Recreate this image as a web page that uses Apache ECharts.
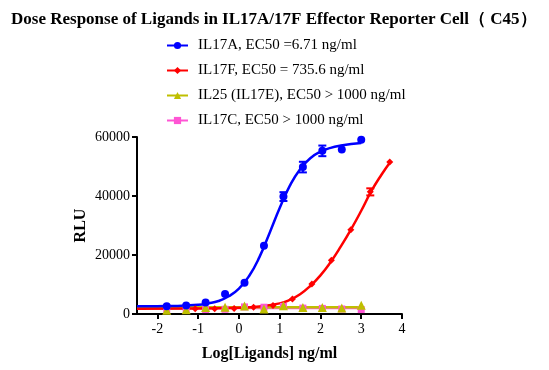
<!DOCTYPE html>
<html><head><meta charset="utf-8">
<script src="https://cdn.jsdelivr.net/npm/echarts@6/dist/echarts.min.js"></script>
<style>html,body{margin:0;padding:0;background:#fff}#c{width:549px;height:370px}</style>
</head><body><div id="c"></div>
<script>
// Names
const names = ['IL17A, EC50 =6.71 ng/ml','IL17F, EC50 = 735.6 ng/ml','IL25 (IL17E), EC50 > 1000 ng/ml','IL17C, EC50 > 1000 ng/ml'];
// Data points (log10 concentration, RLU, error)
const xA = [-1.771,-1.294,-0.817,-0.340,0.137,0.614,1.092,1.569,2.046,2.523,3.000];
const yA = [2600,2900,3900,6800,10600,23100,39800,49800,55300,55800,59100];
const eA = [0,0,0,0,0,0,1500,1800,1800,0,0];
const xF = [-1.073,-0.595,-0.118,0.359,0.836,1.313,1.790,2.268,2.745,3.222,3.699];
const yF = [1800,1800,1900,2300,2900,5100,10200,18200,28600,41400,51500];
const eF = [0,0,0,0,0,0,0,0,0,1200,0];
const xE = [-1.771,-1.294,-0.817,-0.340,0.137,0.614,1.092,1.569,2.046,2.523,3.000];
const yE = [1300,1400,2200,2300,2700,1700,2800,2200,2200,2000,3000];
const xC = [-1.771,-1.294,-0.817,-0.340,0.137,0.614,1.092,1.569,2.046,2.523,3.000];
const yC = [1600,1700,1500,1600,2400,2300,2600,2000,1900,1700,1500];
// Fitted curves
const cxA = [-2.5,-2,-1.5,-1,-0.75,-0.5,-0.25,0,0.25,0.5,0.75,1,1.25,1.5,1.75,2,2.25,2.5,2.75,3];
const cyA = [2600,2650,2750,3100,3600,4400,6000,8600,12900,19200,27400,35900,43500,49100,52800,55000,56300,57100,57600,58000];
const cxF = [-2.5,-1,0,0.5,1,1.25,1.5,1.75,2,2.25,2.5,2.75,3,3.25,3.5,3.7];
const cyF = [1800,1850,2100,2550,3600,4800,6700,9500,13100,17600,22900,28700,35000,41700,47300,51300];
const cxE = [-2.5,3];
const cyE = [2250,2250];
const cxC = [-2.5,3];
const cyC = [2000,2000];
// Axis ticks
const xTicks = [-2,-1,0,1,2,3,4];

const colors = ['#0000ff','#ff0000','#bfbf00','#ff55d4'];
const FONT = 'Liberation Serif';
const zip = (a,b)=>a.map((v,i)=>[v,b[i]]);
const errData = (xs,ys,es)=>xs.map((v,i)=>[v,ys[i],es[i]]).filter(d=>d[2]>0);

function errBar(color){
  return function(params, api){
    const x = api.value(0), y = api.value(1), e = api.value(2);
    const top = api.coord([x,y+e]), bot = api.coord([x,y-e]);
    const w = 4;
    const st = {stroke:color,lineWidth:2};
    return {type:'group',children:[
      {type:'line',shape:{x1:top[0],y1:top[1],x2:bot[0],y2:bot[1]},style:st},
      {type:'line',shape:{x1:top[0]-w,y1:top[1],x2:top[0]+w,y2:top[1]},style:st},
      {type:'line',shape:{x1:bot[0]-w,y1:bot[1],x2:bot[0]+w,y2:bot[1]},style:st}
    ]};
  };
}

const chart = echarts.init(document.getElementById('c'),null,{renderer:'canvas'});
const symbols = ['circle','diamond','triangle','rect'];
const sizes = [8,7,9,7];
const curves = [[cxA,cyA],[cxF,cyF],[cxE,cyE],[cxC,cyC]];
const pts = [[xA,yA],[xF,yF],[xE,yE],[xC,yC]];
const order = [3,2,1,0];
const series = [];
order.forEach((k,j)=>{
  series.push({name:names[k],type:'line',data:zip(curves[k][0],curves[k][1]),showSymbol:false,symbol:symbols[k],
    smooth:true,lineStyle:{color:colors[k],width:2.5},itemStyle:{color:colors[k]},z:2+j,silent:true});
});
order.forEach((k,j)=>{
  series.push({name:names[k],type:'scatter',data:zip(pts[k][0],pts[k][1]),symbol:symbols[k],symbolSize:sizes[k],
    itemStyle:{color:colors[k],opacity:1},z:10+j});
});
series.push({type:'custom',renderItem:errBar(colors[1]),data:errData(xF,yF,eF),z:20});
series.push({type:'custom',renderItem:errBar(colors[0]),data:errData(xA,yA,eA),z:21});

chart.setOption({
  animation:false,
  title:{text:'Dose Response of Ligands in IL17A/17F Effector Reporter Cell（ C45）',left:6,top:6,
    textStyle:{fontFamily:FONT,fontWeight:'bold',fontSize:17,color:'#000'}},
  legend:{data:names,orient:'vertical',left:161,top:33,itemWidth:21,itemHeight:9,itemGap:10,
    textStyle:{fontFamily:FONT,fontSize:15,color:'#000',padding:[0,0,0,5]}},
  grid:{left:137,right:147,top:137,bottom:56},
  xAxis:{type:'value',min:-2.5,max:4,
    name:'Log[Ligands] ng/ml',nameLocation:'middle',nameGap:32,
    nameTextStyle:{fontFamily:FONT,fontWeight:'bold',fontSize:16,color:'#000'},
    axisLine:{show:true,onZero:false,lineStyle:{color:'#000',width:2}},
    axisTick:{show:true,customValues:xTicks,length:5,lineStyle:{color:'#000',width:2}},
    axisLabel:{customValues:xTicks,fontFamily:FONT,fontSize:14,color:'#000',margin:8},
    splitLine:{show:false}},
  yAxis:{type:'value',min:0,max:60000,interval:20000,
    name:'RLU',nameLocation:'middle',nameGap:48,
    nameTextStyle:{fontFamily:FONT,fontWeight:'bold',fontSize:16,color:'#000'},
    axisLine:{show:true,onZero:false,lineStyle:{color:'#000',width:2}},
    axisTick:{show:true,length:5,lineStyle:{color:'#000',width:2}},
    axisLabel:{fontFamily:FONT,fontSize:14,color:'#000',margin:7,formatter:v=>String(v)},
    splitLine:{show:false}},
  series:series
});
</script></body></html>
